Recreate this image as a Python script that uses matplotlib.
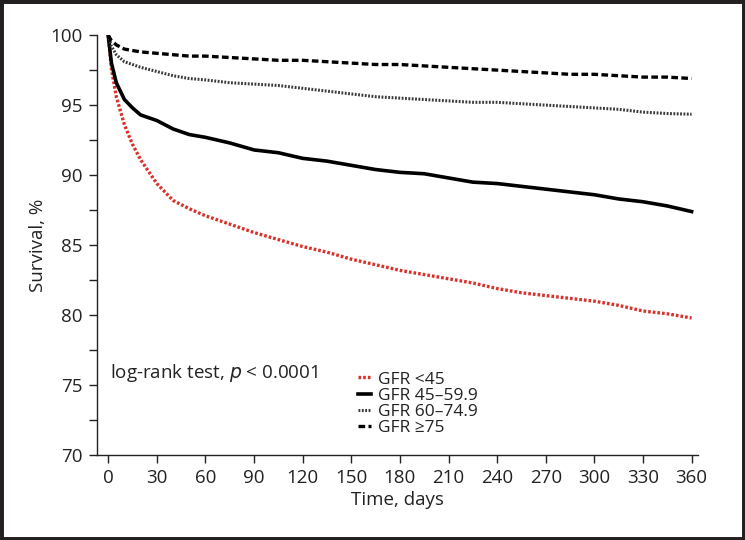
import matplotlib
matplotlib.use("Agg")
import matplotlib.pyplot as plt
from matplotlib.patches import Rectangle
from matplotlib.ticker import MultipleLocator

plt.rcParams["font.family"] = ["Open Sans", "DejaVu Sans"]

# ============================================================
#   DATOS
# ============================================================
days = [0, 2, 5, 10, 15, 20, 30, 40, 50, 60, 75, 90, 105, 120, 135, 150, 165,
        180, 195, 210, 225, 240, 255, 270, 285, 300, 315, 330, 345, 360]

gfr_lt45 = [100, 97.6, 95.6, 93.6, 92.2, 91.1, 89.4, 88.2, 87.6, 87.1, 86.5, 85.9,
            85.4, 84.9, 84.5, 84.0, 83.6, 83.2, 82.9, 82.6, 82.3, 81.9, 81.6, 81.4,
            81.2, 81.0, 80.7, 80.3, 80.1, 79.8]
gfr_45_60 = [100, 98.0, 96.6, 95.4, 94.8, 94.3, 93.9, 93.3, 92.9, 92.7, 92.3, 91.8,
             91.6, 91.2, 91.0, 90.7, 90.4, 90.2, 90.1, 89.8, 89.5, 89.4, 89.2, 89.0,
             88.8, 88.6, 88.3, 88.1, 87.8, 87.4]
gfr_60_75 = [100, 99.2, 98.6, 98.1, 97.9, 97.7, 97.4, 97.1, 96.9, 96.8, 96.6, 96.5,
             96.4, 96.2, 96.0, 95.8, 95.6, 95.5, 95.4, 95.3, 95.2, 95.2, 95.1, 95.0,
             94.9, 94.8, 94.7, 94.5, 94.4, 94.35]
gfr_ge75 = [100, 99.6, 99.3, 99.0, 98.9, 98.8, 98.7, 98.6, 98.5, 98.5, 98.4, 98.3,
            98.2, 98.2, 98.1, 98.0, 97.9, 97.9, 97.8, 97.7, 97.6, 97.5, 97.4, 97.3,
            97.2, 97.2, 97.1, 97.0, 97.0, 96.9]

labels = ["GFR <45", "GFR 45\u201359.9", "GFR 60\u201374.9", "GFR \u226575"]
xticks = list(range(0, 361, 30))
yticks = list(range(70, 101, 5))

# ============================================================
#   FIGURA
# ============================================================
fig = plt.figure(figsize=(7.45, 5.4), dpi=100)
ax = fig.add_axes([0.130, 0.157, 0.807, 0.778])

ax.plot(days, gfr_lt45, color="#d8322c", lw=2.4, linestyle=(0, (0.8, 0.6)), label=labels[0])
ax.plot(days, gfr_45_60, color="black", lw=2.6, label=labels[1])
ax.plot(days, gfr_60_75, color="#3a3a3a", lw=2.2, linestyle=(0, (0.6, 0.5)), label=labels[2])
ax.plot(days, gfr_ge75, color="black", lw=2.4, linestyle=(0, (2.0, 1.0)), label=labels[3])

ax.set_xlim(-7, 364)
ax.set_ylim(70, 100)
ax.set_xticks(xticks)
ax.set_yticks(yticks)
ax.yaxis.set_minor_locator(MultipleLocator(2.5))
ax.tick_params(axis="both", which="major", direction="out", length=6, width=1,
               labelsize=13.5, colors="#222222", pad=4)
ax.tick_params(axis="y", which="minor", direction="out", length=6, width=1, colors="#222222")

for side in ("top", "right"):
    ax.spines[side].set_visible(False)
for side in ("left", "bottom"):
    ax.spines[side].set_linewidth(1)
    ax.spines[side].set_color("#222222")

ax.set_xlabel("Time, days", fontsize=13.5, color="#222222", labelpad=3)
ax.set_ylabel("Survival, %", fontsize=13.5, color="#222222", labelpad=3)

ax.text(1, 75.9, "log-rank test, $\\it{p}$ < 0.0001", fontsize=13.5,
        color="#222222", va="center", ha="left")

leg = ax.legend(loc="upper left", bbox_to_anchor=(0.422, 0.216), frameon=False,
                fontsize=12.5, handlelength=0.8, handletextpad=0.4, labelspacing=0.0,
                borderaxespad=0)
for t in leg.get_texts():
    t.set_color("#222222")

# marco exterior
fig.patches.append(Rectangle((0, 0), 1, 1, transform=fig.transFigure, fill=False,
                             edgecolor="#231f20", lw=5, zorder=10))

fig.savefig("out.png", dpi=100)
